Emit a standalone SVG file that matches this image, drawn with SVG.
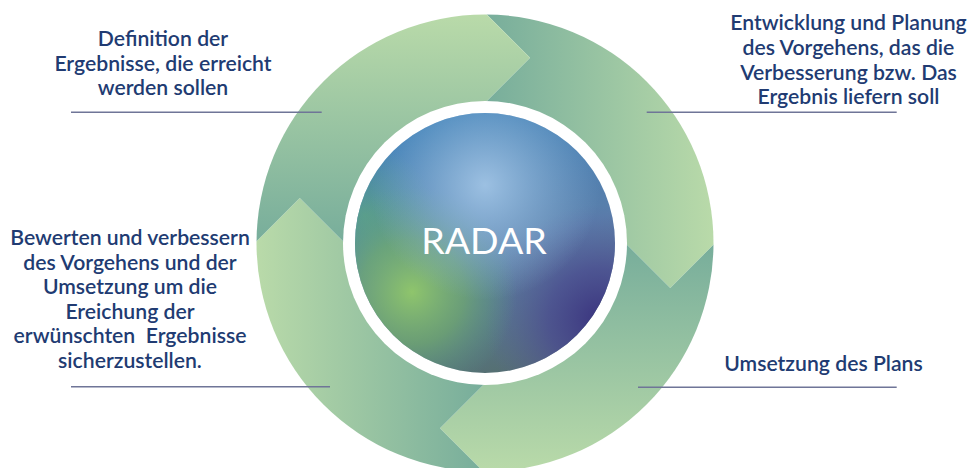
<svg xmlns="http://www.w3.org/2000/svg" width="967" height="468" viewBox="0 0 967 468">
  <style>
    .lbl { font-family: Lato, "Liberation Sans", sans-serif; font-size: 21.2px; font-weight: 600; fill: #213b72; text-anchor: middle; }
    .rule { stroke: #6f7597; stroke-width: 1.5; fill: none; }
    .core { font-family: Lato, "Liberation Sans", sans-serif; font-size: 37.5px; fill: #ffffff; text-anchor: middle; }
  </style>
  <defs>
    <linearGradient id="segGrad" gradientUnits="userSpaceOnUse" x1="0" y1="0" x2="228" y2="0">
      <stop offset="0" stop-color="#77ad9b"/>
      <stop offset="1" stop-color="#b9daa9"/>
    </linearGradient>
    <clipPath id="outerClip">
      <circle cx="0" cy="0" r="228.5"/>
    </clipPath>
    <path id="seg" fill="url(#segGrad)" d="M-15,-245.25 L45,-185.25 L-15,-125.25 L0,0 L125.25,-15 L185.25,45 L245.25,-15 L320,-320 Z"/>
    <linearGradient id="coreBase" x1="0.3" y1="0" x2="0.6" y2="1">
      <stop offset="0" stop-color="#3c80b8"/>
      <stop offset="0.55" stop-color="#5a7fab"/>
      <stop offset="1" stop-color="#556f70"/>
    </linearGradient>
    <radialGradient id="coreLight" gradientUnits="userSpaceOnUse" cx="485" cy="185" r="115">
      <stop offset="0" stop-color="#9cc0e2" stop-opacity="1"/>
      <stop offset="1" stop-color="#8fb6d8" stop-opacity="0"/>
    </radialGradient>
    <radialGradient id="coreGreen" gradientUnits="userSpaceOnUse" cx="412" cy="292" r="105">
      <stop offset="0" stop-color="#8fc56c" stop-opacity="1"/>
      <stop offset="0.5" stop-color="#72ad6c" stop-opacity="0.7"/>
      <stop offset="1" stop-color="#5a9e80" stop-opacity="0"/>
    </radialGradient>
    <radialGradient id="coreTeal" gradientUnits="userSpaceOnUse" cx="365" cy="215" r="70">
      <stop offset="0" stop-color="#5aa08c" stop-opacity="0.9"/>
      <stop offset="1" stop-color="#5aa08c" stop-opacity="0"/>
    </radialGradient>
    <radialGradient id="coreNavy" gradientUnits="userSpaceOnUse" cx="600" cy="320" r="115">
      <stop offset="0" stop-color="#3a347f" stop-opacity="1"/>
      <stop offset="0.45" stop-color="#4a4a92" stop-opacity="0.75"/>
      <stop offset="1" stop-color="#5b62a4" stop-opacity="0"/>
    </radialGradient>
  </defs>

  <g id="ring" transform="translate(485,243)">
    <g clip-path="url(#outerClip)">
      <g id="seg-top-right"><use href="#seg"/></g>
      <g id="seg-bottom-right"><use href="#seg" transform="rotate(90)"/></g>
      <g id="seg-bottom-left"><use href="#seg" transform="rotate(180)"/></g>
      <g id="seg-top-left"><use href="#seg" transform="rotate(270)"/></g>
    </g>
    <circle cx="0" cy="0" r="142" fill="#ffffff"/>
  </g>

  <g id="core">
    <circle cx="485" cy="243" r="130" fill="url(#coreBase)"/>
    <circle cx="485" cy="243" r="130" fill="url(#coreNavy)"/>
    <circle cx="485" cy="243" r="130" fill="url(#coreTeal)"/>
    <circle cx="485" cy="243" r="130" fill="url(#coreGreen)"/>
    <circle cx="485" cy="243" r="130" fill="url(#coreLight)"/>
    <text class="core" x="484" y="254">RADAR</text>
  </g>

  <g id="connectors">
    <line class="rule" x1="71" y1="112.3" x2="321.7" y2="112.3"/>
    <line class="rule" x1="646.7" y1="112.3" x2="896.7" y2="112.3"/>
    <line class="rule" x1="71" y1="386.7" x2="330" y2="386.7"/>
    <line class="rule" x1="638" y1="387.3" x2="896.7" y2="387.3"/>
  </g>

  <g id="label-results">
    <text class="lbl" x="163" y="46">Definition der</text>
    <text class="lbl" x="163" y="70.7">Ergebnisse, die erreicht</text>
    <text class="lbl" x="163" y="95">werden sollen</text>
  </g>

  <g id="label-approach">
    <text class="lbl" x="848.5" y="30">Entwicklung und Planung</text>
    <text class="lbl" x="848.5" y="55">des Vorgehens, das die</text>
    <text class="lbl" x="848.5" y="79.5">Verbesserung bzw. Das</text>
    <text class="lbl" x="848.5" y="104">Ergebnis liefern soll</text>
  </g>

  <g id="label-assess">
    <text class="lbl" x="130" y="245">Bewerten und verbessern</text>
    <text class="lbl" x="130" y="269.6">des Vorgehens und der</text>
    <text class="lbl" x="130" y="294.2">Umsetzung um die</text>
    <text class="lbl" x="130" y="318.8">Ereichung der</text>
    <text class="lbl" x="130" y="343.4" xml:space="preserve">erwünschten  Ergebnisse</text>
    <text class="lbl" x="130" y="368">sicherzustellen.</text>
  </g>

  <g id="label-deploy">
    <text class="lbl" x="823.5" y="371">Umsetzung des Plans</text>
  </g>
</svg>
